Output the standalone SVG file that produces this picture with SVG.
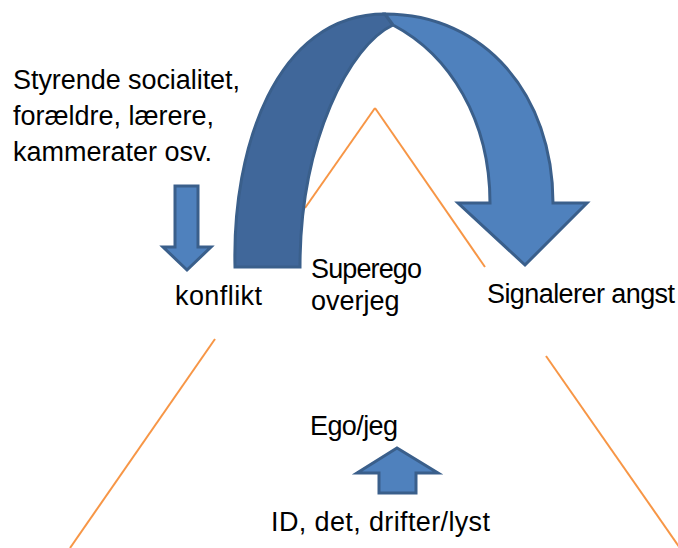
<svg xmlns="http://www.w3.org/2000/svg" width="678" height="548" viewBox="0 0 678 548">
<style>
.t{font-family:"Liberation Sans",Arial,sans-serif;font-size:27px;fill:#000}
.o{stroke:#F79646;stroke-width:2;fill:none}
.a{stroke:#3A5F8B;stroke-width:3;stroke-linejoin:miter}
</style>
<rect width="678" height="548" fill="#fff"/>
<g id="triangle">
<line class="o" x1="375" y1="108" x2="305" y2="208"/>
<line class="o" x1="215" y1="339" x2="70" y2="548"/>
<line class="o" x1="375" y1="108" x2="485" y2="267"/>
<line class="o" x1="546" y1="356" x2="680" y2="548"/>
</g>
<g id="connectors">
<g id="big-arrow">
<path class="a" fill="#40679A" d="M235,267 C232,150 275,14 385,14 L393,25 C350,45 300,140 300,267 Z"/>
<path class="a" fill="#4F81BD" d="M385,14 C485,14 553,95 553,203 L587,203 L525,265 L458,203 L490,203 C490,120 450,55 393,25 Z"/>
</g>
<path id="down-arrow" class="a" fill="#4F81BD" d="M175,186 L198,186 L198,247 L211,247 L187,270 L163,247 L175,247 Z"/>
<path id="up-arrow" class="a" fill="#4F81BD" d="M379,493 L416,493 L416,473 L438,473 L397,448 L357,473 L379,473 Z"/>
</g>
<g id="node-society">
<text class="t" x="13" y="89" textLength="227">Styrende socialitet,</text>
<text class="t" x="13" y="125">forældre, lærere,</text>
<text class="t" x="13" y="161">kammerater osv.</text>
</g>
<g id="node-konflikt"><text class="t" x="175" y="305" textLength="87">konflikt</text></g>
<g id="node-superego">
<text class="t" x="311" y="278" textLength="111">Superego</text>
<text class="t" x="311" y="310">overjeg</text>
</g>
<g id="node-signal"><text class="t" x="487" y="303" textLength="188">Signalerer angst</text></g>
<g id="node-ego"><text class="t" x="310" y="435" textLength="88">Ego/jeg</text></g>
<g id="node-id"><text class="t" x="271" y="531" textLength="219">ID, det, drifter/lyst</text></g>
</svg>
